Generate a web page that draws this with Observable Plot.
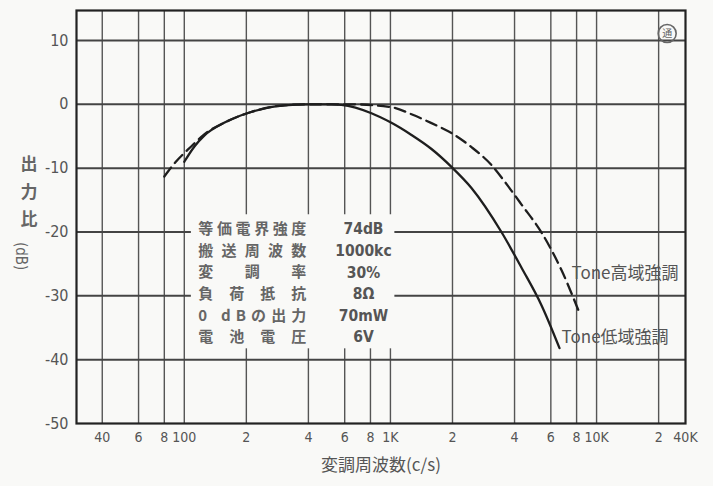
<!DOCTYPE html>
<html>
<head>
<meta charset="utf-8">
<script src="https://cdn.jsdelivr.net/npm/d3@7"></script>
<script src="https://cdn.jsdelivr.net/npm/@observablehq/plot@0.6"></script>
<style>
  html, body { margin: 0; padding: 0; background: #f9f9f7; }
  #chart svg { display: block; }
</style>
</head>
<body>
<div id="chart"></div>
<script>
// ---- data ----
const gridFreqs = [40, 60, 80, 100, 200, 400, 600, 800, 1000, 2000, 4000, 6000, 8000, 10000, 20000];
const tickFreqs = [40, 60, 80, 100, 200, 400, 600, 800, 1000, 2000, 4000, 6000, 8000, 10000, 20000, 27000];
const tickLabels = ["40", "6", "8", "100", "2", "4", "6", "8", "1K", "2", "4", "6", "8", "10K", "2", "40K"];
const dbTicks = [10, 0, -10, -20, -30, -40, -50];
const dbGrid = [10, 0, -10, -20, -30, -40];

// Tone低域強調 (solid)
const lowFreq = [100, 112, 125, 156, 211, 306, 400, 517, 578, 809, 1011, 1265, 1582, 1977, 2472, 3455, 4325, 5410, 6612];
const lowDb   = [-9.0, -6.6, -4.9, -2.9, -1.2, -0.15, 0, 0, -0.1, -1.4, -2.9, -4.8, -7.0, -9.8, -13.1, -20.0, -25.6, -31.5, -38.2];
// Tone高域強調 (dashed)
const highFreq = [80, 91, 108, 125, 156, 211, 306, 400, 517, 647, 1011, 1265, 1582, 1977, 2472, 3090, 3737, 4325, 5410, 6764, 8170];
const highDb   = [-11.3, -9.0, -6.6, -4.7, -2.9, -1.2, -0.15, 0, 0, 0, -0.45, -1.55, -2.95, -4.5, -6.7, -9.5, -12.9, -15.7, -20.1, -26.0, -32.3];

const infoLabels = ["等価電界強度", "搬送周波数", "変調率", "負荷抵抗", "0 dBの出力", "電池電圧"];
const infoValues = ["74dB", "1000kc", "30%", "8Ω", "70mW", "6V"];

const seriesLabels = ["Tone高域強調", "Tone低域強調"];
const xTitle = "変調周波数(c/s)";
const yTitle = "出\n力\n比";
const yUnit = "(dB)";

const lowData = lowFreq.map((f, i) => ({f, db: lowDb[i]}));
const highData = highFreq.map((f, i) => ({f, db: highDb[i]}));

const latin = "'DejaVu Sans Condensed', 'Liberation Sans Narrow', 'DejaVu Sans', sans-serif";
const cjk = "'Noto Sans CJK JP', 'Noto Sans', sans-serif";
const ink = "#555";
const bg = "#f9f9f7";
// layout of the specification block
const infoX = 117, valueX = 740;
const rowY = (d, i) => -19.6 - i * 3.38;
const boxTop = rowY(null, 0) + 2.3, boxBottom = rowY(null, infoLabels.length - 1) - 1.8;

const chart = Plot.plot({
  width: 713,
  height: 486,
  marginLeft: 76,
  marginRight: 28,
  marginTop: 10,
  marginBottom: 63,
  style: {background: bg, fontFamily: latin},
  x: {type: "log", domain: [30, 27000], axis: null, label: null},
  y: {domain: [-50, 14.7], axis: null, label: null},
  marks: [
    Plot.ruleX(gridFreqs, {stroke: "#555", strokeWidth: 1.4}),
    Plot.ruleY(dbGrid, {stroke: "#444", strokeWidth: 2}),
    Plot.frame({stroke: "#222", strokeWidth: 2.2}),
    // blank area behind the specification block
    Plot.rect([0], {x1: infoX * 0.925, x2: valueX * 1.42, y1: boxBottom, y2: boxTop, fill: bg}),
    Plot.text(infoLabels, {
      x: infoX, y: rowY, textAnchor: "start",
      fontSize: 15, fontFamily: cjk, fontWeight: "bold", fill: "#666"
    }),
    Plot.text(infoValues, {
      x: valueX, y: rowY, textAnchor: "middle",
      fontSize: 15.5, fontFamily: latin, fontWeight: "bold", fill: "#555"
    }),
    Plot.line(lowData, {x: "f", y: "db", curve: "monotone-x", stroke: "#1e1e1e", strokeWidth: 2.3}),
    Plot.line(highData, {x: "f", y: "db", curve: "monotone-x", stroke: "#1e1e1e", strokeWidth: 2.3, strokeDasharray: "11,6"}),
    Plot.text([seriesLabels[0]], {x: 7555, y: -26.5, textAnchor: "start", fontSize: 17, fontFamily: cjk, fill: ink}),
    Plot.text([seriesLabels[1]], {x: 6764, y: -36.6, textAnchor: "start", fontSize: 17, fontFamily: cjk, fill: ink}),
    // circled mark top right
    Plot.dot([0], {x: 22000, y: 11.1, r: 9, stroke: "#666", strokeWidth: 1.6}),
    Plot.text(["通"], {x: 22000, y: 11.1, fontSize: 10, fontFamily: cjk, fill: "#666"}),
    // x tick labels
    Plot.text(tickLabels, {x: (d, i) => tickFreqs[i], frameAnchor: "bottom", dy: 18, fontSize: 14, fill: ink, fontFamily: latin}),
    Plot.axisY({ticks: dbTicks, tickFormat: d => String(d), tickSize: 0, tickPadding: 8, fontSize: 16, fill: ink, fontFamily: latin, label: null}),
    Plot.text([xTitle], {frameAnchor: "bottom", dy: 47, fontSize: 17, fontFamily: cjk, fill: ink}),
    Plot.text([yTitle], {frameAnchor: "left", dx: -56, dy: -28, lineHeight: 1.62, fontSize: 17, fontFamily: cjk, fontWeight: "bold", fill: "#666"}),
    Plot.text([yUnit], {frameAnchor: "left", dx: -56, dy: 25, rotate: 90, fontSize: 15, fontFamily: latin, fill: "#666"})
  ]
});
document.getElementById("chart").appendChild(chart);
// spread the label column to an even width
const infoSet = new Set(infoLabels);
chart.querySelectorAll("text").forEach(el => {
  if (infoSet.has(el.textContent)) {
    el.setAttribute("textLength", "108");
    el.setAttribute("lengthAdjust", "spacing");
  }
});
</script>
</body>
</html>
